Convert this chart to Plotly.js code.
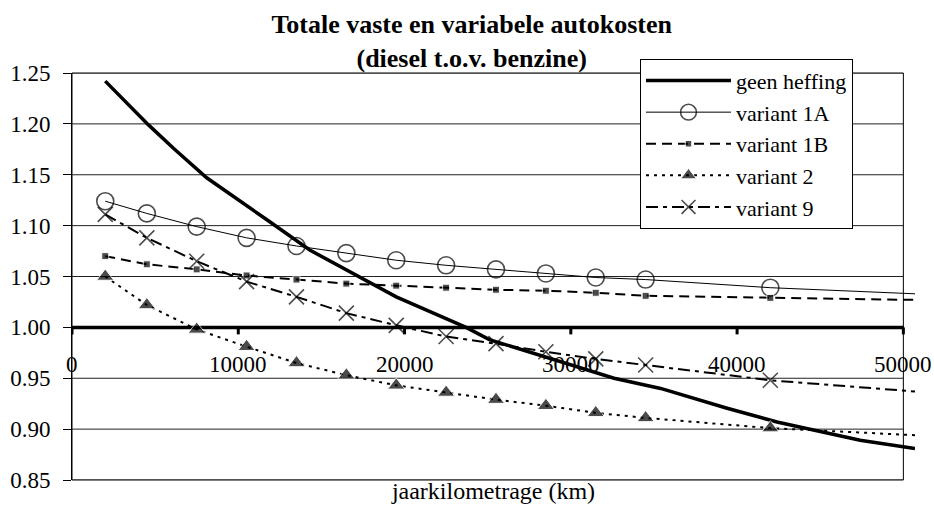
<!DOCTYPE html>
<html>
<head>
<meta charset="utf-8">
<script src="https://cdn.plot.ly/plotly-3.0.1.min.js"></script>
<style>
  html, body { margin: 0; padding: 0; background: #ffffff; }
  #chart { width: 934px; height: 506px; }
</style>
</head>
<body>
<div id="chart"></div>
<script>
// ---- data ----
const chartTitle = "Totale vaste en variabele autokosten<br>(diesel t.o.v. benzine)";
const xTitle = "jaarkilometrage (km)";
const seriesNames = ["geen heffing", "variant 1A", "variant 1B", "variant 2", "variant 9"];

// jaarkilometrage at which the variants are drawn (last value = line end, no marker)
const variantKm = [2000, 4500, 7500, 10500, 13500, 16500, 19500, 22500, 25500, 28500, 31500, 34500, 42000, 50700];
const variant1A = [1.124, 1.112, 1.099, 1.088, 1.080, 1.073, 1.066, 1.061, 1.057, 1.053, 1.049, 1.047, 1.039, 1.033];
const variant1B = [1.070, 1.062, 1.057, 1.051, 1.047, 1.043, 1.041, 1.039, 1.037, 1.036, 1.034, 1.031, 1.029, 1.027];
const variant2  = [1.050, 1.022, 0.998, 0.981, 0.965, 0.953, 0.943, 0.936, 0.929, 0.923, 0.916, 0.911, 0.901, 0.894];
const variant9  = [1.111, 1.088, 1.065, 1.045, 1.030, 1.014, 1.002, 0.991, 0.984, 0.976, 0.969, 0.963, 0.948, 0.937];

// "geen heffing" curve
const geenKm = [2000, 4600, 6100, 8100, 11700, 14300, 19500, 22100, 23700, 25100, 28100, 30600, 32600, 35400, 39400, 42400, 45400, 47400, 50700];
const geenHeffing = [1.242, 1.199, 1.176, 1.147, 1.106, 1.076, 1.030, 1.012, 1.000, 0.988, 0.973, 0.960, 0.950, 0.940, 0.9205, 0.907, 0.896, 0.889, 0.881];

const yTickVals = [0.85, 0.90, 0.95, 1.00, 1.05, 1.10, 1.15, 1.20, 1.25];
const xTickVals = [0, 10000, 20000, 30000, 40000, 50000];

// ---- layout helpers ----
const FONT = "Liberation Serif, Times New Roman, serif";
const W = 934, H = 506;
const M = { l: 72, r: 19, t: 73, b: 26 };
const plotW = W - M.l - M.r;
const xAxisMax = 50000;                                  // end of the drawn axis / frame
const xRangeMax = variantKm[variantKm.length - 1];       // lines run slightly past the frame
const yRange = [0.85, 1.25];
const xCross = 1.00;                                     // value where the x axis crosses

const sizesFor = (s) => variantKm.map((_, i) => (i < variantKm.length - 1 ? s : 0));

const common = { mode: "lines+markers", cliponaxis: false };

const traces = [
  { ...common, name: seriesNames[0], x: geenKm, y: geenHeffing, mode: "lines",
    line: { color: "#000", width: 3.5 } },
  { ...common, name: seriesNames[1], x: variantKm, y: variant1A,
    line: { color: "#000", width: 1 },
    marker: { symbol: "circle-open", size: sizesFor(17), color: "#000", line: { width: 1.6, color: "#000" } } },
  { ...common, name: seriesNames[2], x: variantKm, y: variant1B,
    line: { color: "#000", width: 2, dash: "10px,6px" },
    marker: { symbol: "square", size: sizesFor(7), color: "#000" } },
  { ...common, name: seriesNames[3], x: variantKm, y: variant2,
    line: { color: "#000", width: 2, dash: "3px,5px" },
    marker: { symbol: "triangle-up", size: sizesFor(15), color: "#000" } },
  { ...common, name: seriesNames[4], x: variantKm, y: variant9,
    line: { color: "#000", width: 2, dash: "12px,5px,4px,5px" },
    marker: { symbol: "x-thin-open", size: sizesFor(15), color: "#000", line: { width: 1.6, color: "#000" } } }
];

// gridlines + frame limited to the axis end, x axis crossing at 1.00
const shapes = [
  ...yTickVals.map(v => ({
    type: "line", xref: "x", yref: "y", x0: 0, x1: xAxisMax, y0: v, y1: v,
    line: { color: "#222", width: 1 }, layer: "below"
  })),
  { type: "rect", xref: "x", yref: "y domain", x0: 0, x1: xAxisMax, y0: 0, y1: 1,
    line: { color: "#000", width: 1 }, fillcolor: "rgba(0,0,0,0)", layer: "below" },
  { type: "line", xref: "x", yref: "y", x0: 0, x1: xAxisMax, y0: xCross, y1: xCross,
    line: { color: "#000", width: 3.5 }, layer: "below" },
  ...xTickVals.map(v => ({
    type: "line", xref: "x", yref: "y", ysizemode: "pixel", yanchor: xCross,
    x0: v, x1: v, y0: 0, y1: -7,
    line: { color: "#000", width: 3 }, layer: "below"
  }))
];

const annotations = xTickVals.map(v => ({
  xref: "x", yref: "y", x: v, y: xCross, xanchor: "center", yanchor: "middle",
  yshift: -37, showarrow: false, text: String(v),
  font: { family: FONT, size: 23, color: "#000" }
}));

const layout = {
  width: W, height: H,
  margin: M,
  paper_bgcolor: "#ffffff",
  plot_bgcolor: "#ffffff",
  font: { family: FONT, color: "#000", size: 23 },
  showlegend: true,
  title: {
    text: chartTitle,
    font: { family: FONT, size: 26, color: "#000", weight: "bold" },
    xref: "container", x: 0.505, xanchor: "center",
    yref: "container", y: 0.935, yanchor: "top"
  },
  legend: {
    x: (640 - M.l) / plotW, xanchor: "left",
    y: 1.035, yanchor: "top",
    bgcolor: "#ffffff", bordercolor: "#000", borderwidth: 1,
    font: { family: FONT, size: 22, color: "#000" },
    itemwidth: 85, tracegroupgap: 0
  },
  xaxis: {
    domain: [0, 1], range: [0, xRangeMax], anchor: "y",
    showgrid: false, zeroline: false, showline: false,
    showticklabels: false, ticks: "",
    title: { text: xTitle, font: { family: FONT, size: 24, color: "#000" }, standoff: 2 },
    fixedrange: true
  },
  yaxis: {
    domain: [0, 1], range: yRange, anchor: "x",
    tickvals: yTickVals, tickformat: ".2f",
    showgrid: false, zeroline: false,
    showline: true, linecolor: "#000", linewidth: 1,
    ticks: "outside", ticklen: 8, tickwidth: 1, tickcolor: "#000",
    ticklabelstandoff: 8,
    tickfont: { family: FONT, size: 23, color: "#000" },
    fixedrange: true
  },
  shapes: shapes,
  annotations: annotations
};

Plotly.newPlot("chart", traces, layout, { staticPlot: true, displayModeBar: false });
</script>
</body>
</html>
